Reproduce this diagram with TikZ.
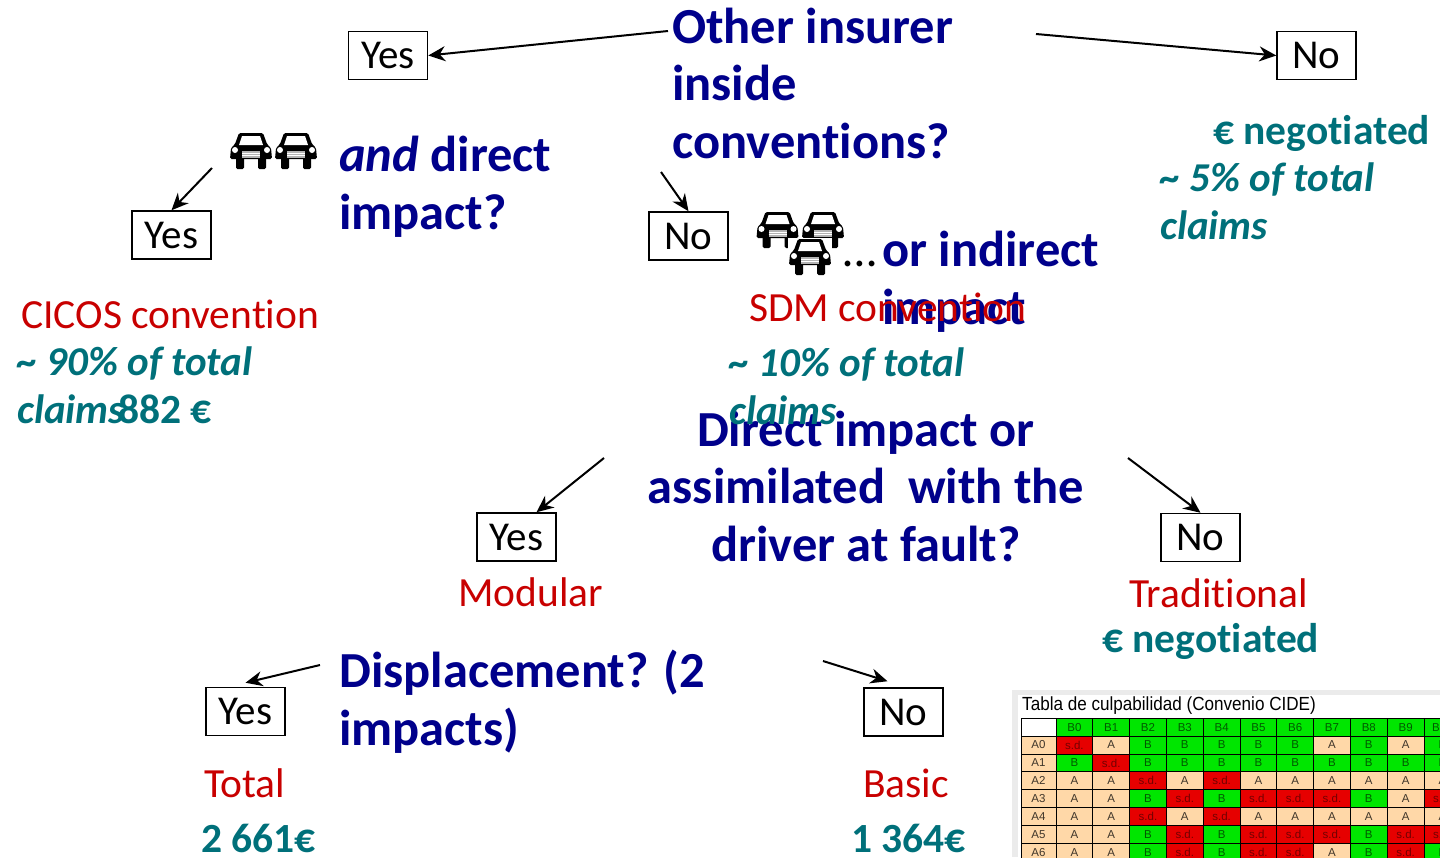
\documentclass[tikz,border=0pt]{standalone}
\usepackage{fontspec}
\setmainfont[Ligatures=CommonOff]{Carlito}
\newfontfamily\tablefont{Liberation Sans}
\usetikzlibrary{arrows.meta, positioning}
\definecolor{qblue}{HTML}{00008B}
\definecolor{cred}{HTML}{C80000}
\definecolor{cteal}{HTML}{00707A}
\definecolor{celltan}{HTML}{FFD8A8}
\definecolor{cellgreen}{HTML}{00E600}
\definecolor{cellred}{HTML}{E60000}
\tikzset{
  box/.style={draw, line width=1.5pt, minimum width=79pt, minimum height=48pt, inner sep=0pt, font=\fontsize{41}{41}\selectfont},
  arr/.style={line width=2pt, -{Stealth[length=17pt,width=15pt]}},
  quest/.style={inner sep=0pt, anchor=base west, text=qblue, align=left, font=\fontsize{50.5}{57.5}\selectfont\bfseries},
  conv/.style={inner sep=0pt, anchor=base west, text=cred, font=\fontsize{41.5}{46}\selectfont},
  share/.style={inner sep=0pt, anchor=base west, text=cteal, align=left, font=\fontsize{41}{48}\selectfont\bfseries\itshape},
  price/.style={inner sep=0pt, anchor=base west, text=cteal, font=\fontsize{41.5}{46}\selectfont\bfseries},
  cell/.style={draw=black, line width=.8pt, minimum width=36.8pt, minimum height=17.9pt, inner sep=0pt, font=\tablefont\fontsize{11.5}{11.5}\selectfont},
  cellA/.style={cell, fill=celltan, text=black!75!celltan, node contents={A}},
  cellB/.style={cell, fill=cellgreen, text=green!35!black, node contents={B}},
  cellS/.style={cell, fill=cellred, text=red!45!black, node contents={s.d.}},
  car/.pic={
    \fill[white] (-22,-19) rectangle (22,19);
    \fill[black, rounded corners=1.5pt] (-12,-18) -- (12,-18) -- (16,-7) -- (20,-3) -- (21,8) -- (-21,8) -- (-20,-3) -- (-16,-7) -- cycle;
    \fill[black, rounded corners=1.5pt] (-15,6) rectangle (-7,18);
    \fill[black, rounded corners=1.5pt] (7,6) rectangle (15,18);
    \fill[white] (-9,-15) -- (9,-15) -- (12,-6) -- (-12,-6) -- cycle;
    \fill[white] (-16,-1) circle (3);
    \fill[white] (16,-1) circle (3);
    \fill[white!70!black] (-9,0) rectangle (9,7);
    \foreach \k in {2,4.5} \draw[white, line width=.8pt] (-9,\k) -- (9,\k);
  }
}
\begin{document}
\begin{tikzpicture}[x=1pt, y=-1pt]
    \useasboundingbox (0,0) rectangle (1440,857);

    % questions
    \node [quest] (qother) at (672,158) {Other insurer\\inside\\conventions?};
    \node [quest] (qdirect) at (339,229) {\textit{and} direct\\impact?};
    \node [quest] (qindirect) at (882,324) {or indirect\\impact};
    \node [inner sep=0pt, anchor=base west, font=\fontsize{48}{48}\selectfont] (dots) at (843,266) {\dots};
    \node [quest, align=center, anchor=base] (qfault) at (866,561) {Direct impact or\\assimilated~ with the\\driver at fault?};
    \node [quest] (qdisp) at (339,745) {Displacement? (2\\impacts)};

    % answers
    \node [box] (yesa) at (388,55.5) {Yes};
    \node [box] (noa) at (1316.5,55.5) {No};
    \node [box] (yesb) at (171.5,235) {Yes};
    \node [box] (nob) at (688.5,236) {No};
    \node [box] (yesc) at (516.5,537) {Yes};
    \node [box] (noc) at (1200.5,537.5) {No};
    \node [box] (yesd) at (245.5,711.5) {Yes};
    \node [box] (nod) at (903.5,712) {No};

    % free ends of the arrows
    \coordinate (sa) at (668,31);
    \coordinate (sb) at (1036,34);
    \coordinate (sc) at (212,168);
    \coordinate (sd) at (661,172);
    \coordinate (se) at (604,458);
    \coordinate (sf) at (1128,458);
    \coordinate (sg) at (320,665);
    \coordinate (sh) at (823,661);

    \draw[arr] (sa) -- (yesa.east);
    \draw[arr] (sb) -- (noa.west);
    \draw[arr] (sc) -- (yesb.north);
    \draw[arr] (sd) -- (nob.north);
    \draw[arr] (se) -- ([xshift=20pt]yesc.north);
    \draw[arr] (sf) -- (noc.north);
    \draw[arr] (sg) -- ([yshift=4pt]yesd.north);
    \draw[arr] (sh) -- ([xshift=-16pt, yshift=6pt]nod.north);

    % conventions and shares
    \node [price] (nega) at (1213,144) {€ negotiated};
    \node [share] (sharea) at (1160,239) {\textasciitilde{} 5\% of total\\claims};
    \node [conv] (cicos) at (21,328) {CICOS convention};
    \node [share] (shareb) at (17,423) {\textasciitilde{} 90\% of total\\claims};
    \node [price] (eurb) at (118,423) {882 €};
    \node [conv] (sdm) at (749,321) {SDM convention};
    \node [share] (sharec) at (729,424) {\textasciitilde{} 10\% of total\\claims};
    \node [conv] (modular) at (458,606) {Modular};
    \node [conv] (trad) at (1129,607) {Traditional};
    \node [price] (negb) at (1102,652) {€ negotiated};
    \node [conv] (total) at (204,797) {Total};
    \node [conv] (basic) at (863,797) {Basic};
    \node [price] (eurc) at (201,852) {2 661€};
    \node [price] (eurd) at (851,852) {1 364€};

    % cars
    \pic at (251,151) {car};
    \pic at (296,151) {car};
    \pic at (777.5,230) {car};
    \pic at (823,230) {car};
    \pic at (810,257) {car};

    % fault table
    \begin{scope}
        \clip (0,0) rectangle (1440,857);
        \fill[black!8] (1012,690) rectangle (1440,857);
        \fill[white] (1018,695) rectangle (1440,857);
        \node [inner sep=0pt, anchor=base west, font=\tablefont\fontsize{19}{19}\selectfont, xscale=.9] (title) at (1022,710) {Tabla de culpabilidad (Convenio CIDE)};
        \node [cell, fill=white, minimum width=35pt] (corner) at (1038.5,727.5) {};
        \foreach \v [count=\i from 0] in {B0,B1,B2,B3,B4,B5,B6,B7,B8,B9,B10}
            \node [cell, fill=cellgreen, text=green!35!black] (h\i) at (1074.4+36.8*\i,727.5) {\v};
        \foreach \r [count=\j from 0] in {{S,A,B,B,B,B,B,A,B,A,B},{B,S,B,B,B,B,B,B,B,B,B},{A,A,S,A,S,A,A,A,A,A,A},{A,A,B,S,B,S,S,S,B,A,S},{A,A,S,A,S,A,A,A,A,A,A},{A,A,B,S,B,S,S,S,B,S,S},{A,A,B,S,B,S,S,A,B,S,B}} {
            \node [cell, fill=celltan, text=black!75!celltan, minimum width=35pt] (a\j) at (1038.5,745+17.9*\j) {A\j};
            \foreach \v [count=\i from 0] in \r
                \node [cell\v, name=c\j\i, at={(1074.4+36.8*\i,745+17.9*\j)}];
        }
    \end{scope}
\end{tikzpicture}
\end{document}
